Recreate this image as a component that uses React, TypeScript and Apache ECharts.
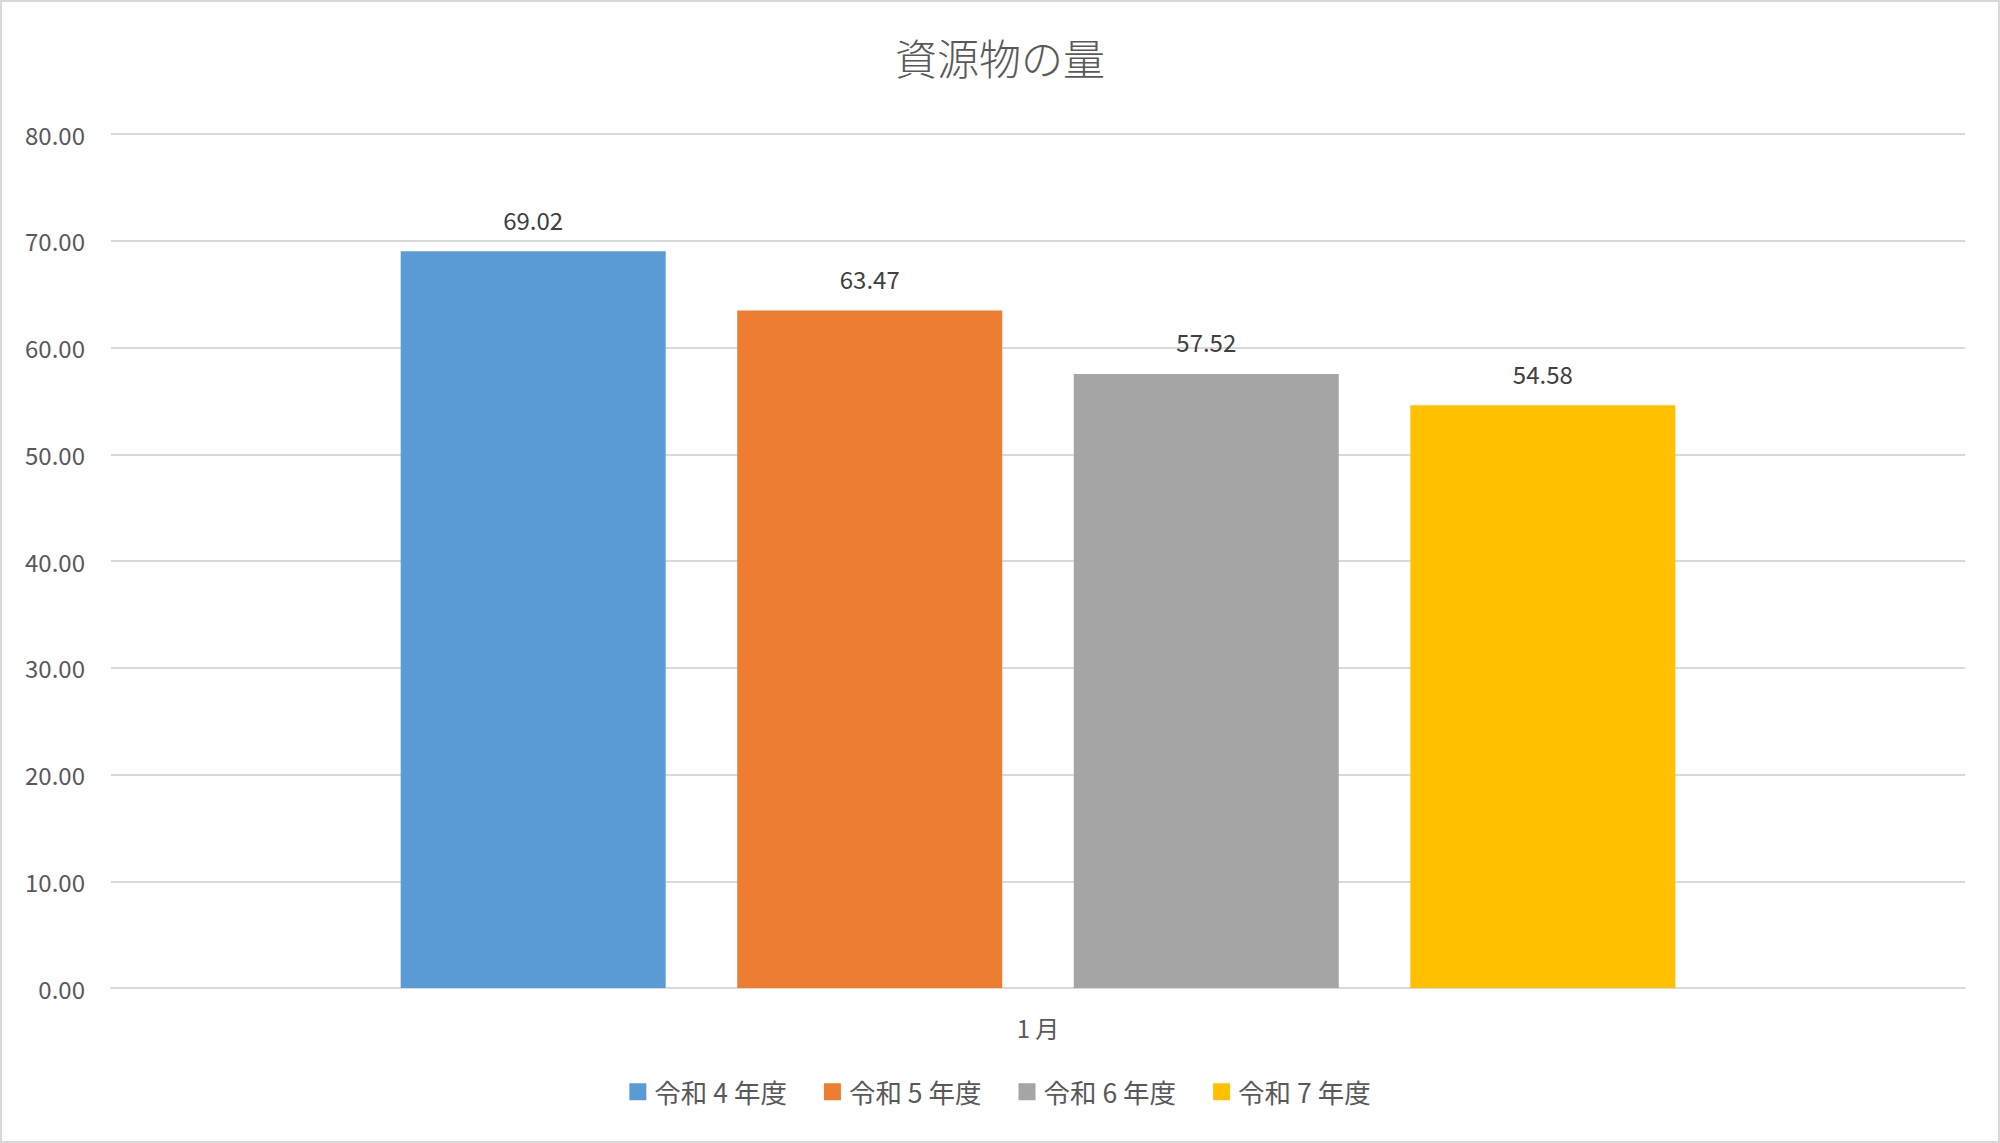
import React, { useEffect, useRef } from 'react';
import * as echarts from 'echarts';

const categories = ['1 月'];
const seriesNames = ['令和 4 年度', '令和 5 年度', '令和 6 年度', '令和 7 年度'];
const seriesValues = [[69.02], [63.47], [57.52], [54.58]];
const seriesColors = ['#5B9BD5', '#ED7D31', '#A5A5A5', '#FFC000'];

const textColor = '#595959';
const fontFamily = '"Noto Sans CJK JP", "Noto Sans", sans-serif';

const App: React.FC = () => {
  const chartRef = useRef<HTMLDivElement>(null);

  useEffect(() => {
    if (!chartRef.current) return;
    document.body.style.margin = '0';

    const chart = echarts.init(chartRef.current, undefined, { renderer: 'svg' });

    const option: echarts.EChartsOption = {
      animation: false,
      backgroundColor: '#fff',
      textStyle: { fontFamily },
      title: {
        text: '資源物の量',
        left: 'center',
        top: 28,
        textStyle: {
          color: textColor,
          fontSize: 42,
          fontWeight: 300,
          fontFamily,
        },
      },
      legend: {
        bottom: 31,
        left: 'center',
        itemWidth: 17,
        itemHeight: 17,
        itemGap: 37,
        icon: 'rect',
        textStyle: { color: textColor, fontSize: 26.5, fontFamily, padding: [0, 0, 0, 3] },
      },
      grid: {
        left: 109,
        right: 33,
        top: 132,
        bottom: 153,
        containLabel: false,
      },
      xAxis: {
        type: 'category',
        data: categories,
        axisLine: { lineStyle: { color: '#D9D9D9', width: 2 } },
        axisTick: { show: false },
        axisLabel: { color: textColor, fontSize: 24, margin: 27, fontFamily },
      },
      yAxis: {
        type: 'value',
        min: 0,
        max: 80,
        interval: 10,
        axisLine: { show: false },
        axisTick: { show: false },
        axisLabel: {
          color: textColor,
          fontSize: 24,
          margin: 26,
          fontFamily,
          formatter: (v: number) => v.toFixed(2),
        },
        splitLine: { lineStyle: { color: '#D9D9D9', width: 2 } },
      },
      series: seriesNames.map((name, i) => ({
        name,
        type: 'bar',
        data: seriesValues[i],
        barWidth: 265,
        barGap: '27%',
        itemStyle: { color: seriesColors[i] },
        label: {
          show: true,
          position: 'top',
          distance: 20,
          color: '#404040',
          fontSize: 24,
          fontFamily,
          formatter: (p: any) => Number(p.value).toFixed(2),
        },
      })),
    };

    chart.setOption(option);

    const handleResize = () => {
      chart.resize();
    };
    window.addEventListener('resize', handleResize);

    return () => {
      window.removeEventListener('resize', handleResize);
      chart.dispose();
    };
  }, []);

  return (
    <div
      style={{
        position: 'absolute',
        left: 0,
        top: 0,
        width: '2000px',
        height: '1143px',
        border: '2px solid #D9D9D9',
        boxSizing: 'border-box',
      }}
    >
      <div ref={chartRef} style={{ width: '100%', height: '100%' }} />
    </div>
  );
};

export default App;
